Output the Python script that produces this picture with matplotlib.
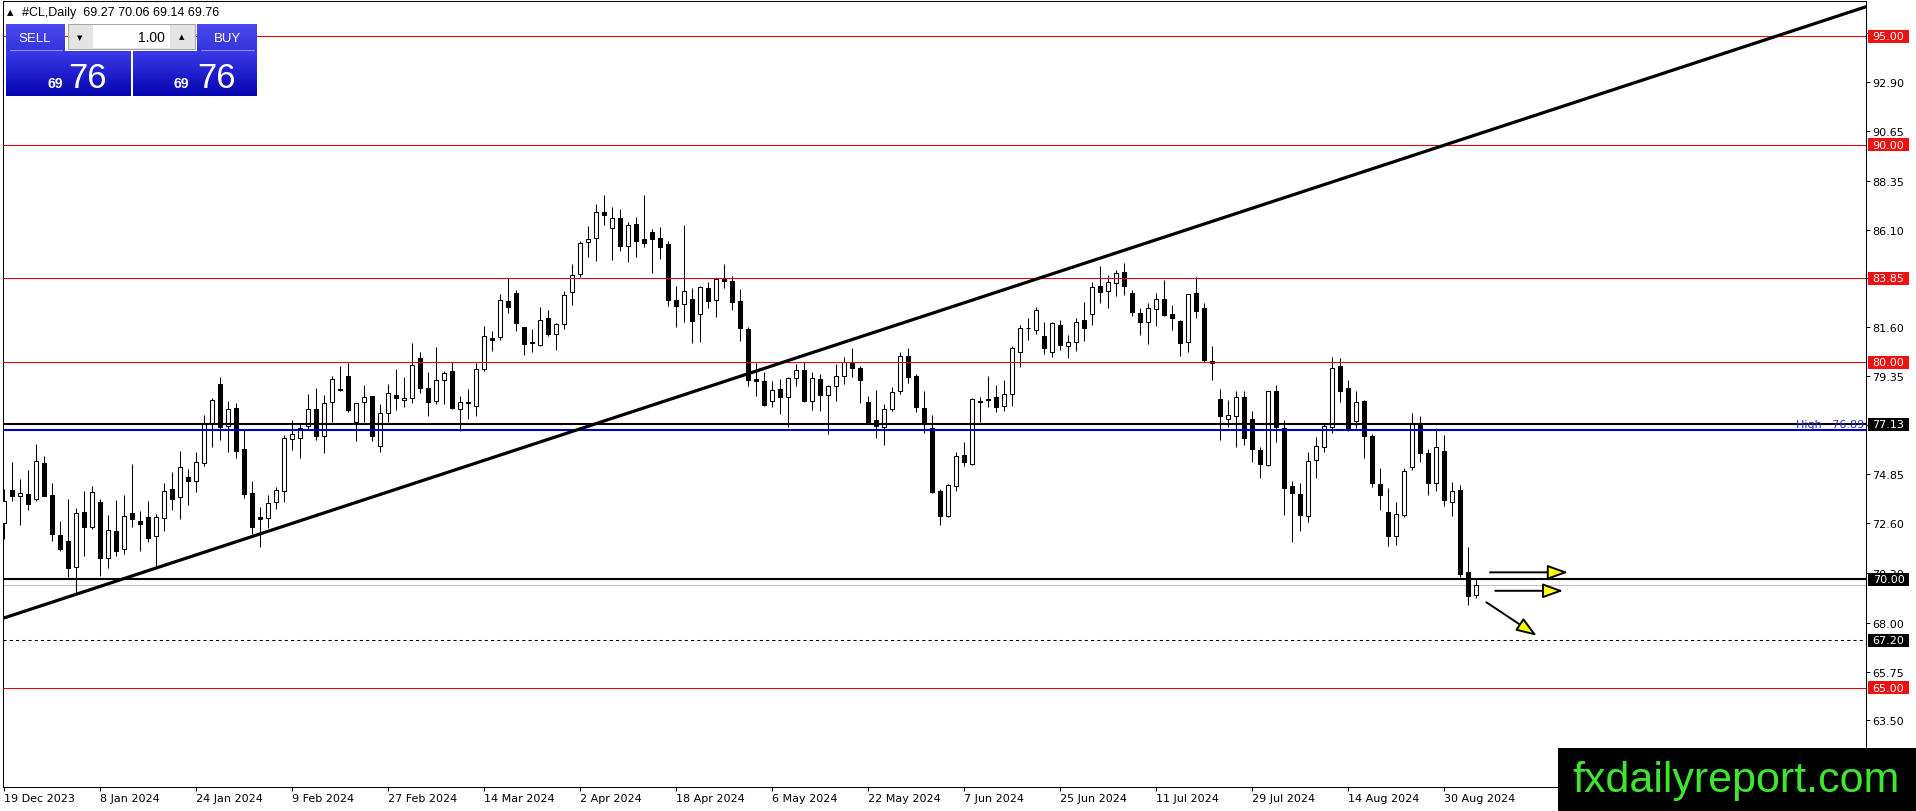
import numpy as np
import matplotlib
matplotlib.use('Agg')
import matplotlib.pyplot as plt
from matplotlib import font_manager
from matplotlib.patches import Rectangle, FancyArrowPatch
from matplotlib.colors import LinearSegmentedColormap
from matplotlib.transforms import blended_transform_factory

W, H = 1916, 812

# daily OHLC of #CL, 19 Dec 2023 .. 5 Sep 2024
opens = [
    72.59, 74.12, 73.85, 73.91, 73.68, 75.35, 73.86, 72.02, 71.75, 70.55,
    73.08, 72.42, 73.56, 70.96, 72.21, 71.39, 73.03, 72.68, 72.85, 72.01,
    72.80, 74.14, 73.77, 74.69, 74.54, 75.34, 77.20, 78.98, 77.04, 77.89,
    75.98, 73.97, 72.85, 72.82, 73.56, 74.08, 76.44, 76.49, 77.07, 77.82,
    76.61, 78.15, 78.76, 79.34, 77.22, 78.15, 78.42, 76.15, 77.64, 78.50,
    78.24, 78.33, 80.17, 78.79, 78.19, 79.16, 79.57, 77.84, 78.15, 77.96,
    79.67, 81.09, 81.14, 82.80, 83.18, 81.60, 80.91, 80.80, 82.01, 81.29,
    81.74, 83.21, 84.06, 85.51, 85.70, 86.90, 86.16, 86.63, 85.36, 86.36,
    85.67, 85.97, 85.70, 85.44, 82.86, 82.67, 82.90, 82.20, 83.40, 82.84,
    83.83, 83.72, 82.80, 81.52, 79.22, 79.13, 78.19, 78.74, 78.38, 79.25,
    79.62, 78.19, 79.21, 78.48, 78.88, 79.34, 80.02, 79.73, 78.16, 77.33,
    77.02, 77.84, 78.65, 80.29, 79.34, 77.89, 76.96, 74.05, 72.90, 74.31,
    75.72, 75.29, 78.19, 78.32, 78.38, 77.99, 78.51, 80.48, 81.58, 81.46,
    81.19, 80.48, 81.72, 80.76, 80.91, 81.94, 82.20, 83.49, 83.26, 83.63,
    84.13, 83.17, 82.24, 81.83, 82.44, 82.89, 82.21, 81.88, 80.91, 83.17,
    82.50, 80.05, 78.30, 77.38, 77.50, 78.38, 77.36, 75.94, 75.26, 78.65,
    76.95, 74.28, 73.93, 72.90, 75.49, 76.07, 77.00, 79.80, 78.79, 77.30,
    78.21, 76.61, 74.39, 73.12, 71.98, 72.97, 75.15, 77.18, 75.81, 74.43,
    75.89, 73.57, 74.12, 70.32, 69.27,
]
highs = [
    74.16, 75.38, 74.62, 75.03, 76.23, 75.69, 74.43, 72.68, 73.70, 73.27,
    74.05, 74.28, 73.70, 72.96, 73.65, 73.88, 75.31, 73.13, 73.60, 73.00,
    74.43, 74.92, 75.89, 75.08, 75.88, 77.56, 78.35, 79.30, 78.21, 78.12,
    76.92, 74.54, 73.34, 73.88, 74.26, 76.64, 77.35, 77.15, 78.53, 78.79,
    78.48, 79.37, 79.80, 79.96, 78.11, 78.93, 78.45, 78.05, 78.97, 79.67,
    79.30, 80.88, 80.46, 79.53, 80.68, 79.57, 80.00, 78.45, 78.76, 79.94,
    81.65, 81.45, 83.12, 83.87, 83.30, 81.61, 81.52, 82.54, 82.40, 81.80,
    83.26, 84.52, 85.56, 86.25, 87.28, 87.69, 87.13, 87.05, 86.46, 86.67,
    87.71, 86.13, 86.20, 85.59, 83.52, 86.31, 83.40, 83.52, 83.70, 83.89,
    84.52, 83.95, 83.37, 81.60, 79.94, 79.56, 79.14, 79.22, 79.31, 79.91,
    80.02, 79.56, 79.45, 78.94, 79.91, 80.22, 80.65, 79.80, 78.42, 78.73,
    78.07, 78.84, 80.45, 80.63, 79.45, 78.65, 77.56, 74.16, 74.39, 75.87,
    76.33, 78.33, 78.38, 79.37, 78.96, 79.17, 80.76, 81.71, 82.03, 82.52,
    81.83, 81.83, 81.95, 81.25, 82.04, 82.75, 83.70, 84.41, 84.01, 84.22,
    84.55, 83.33, 82.49, 82.72, 83.17, 83.78, 82.63, 81.94, 83.14, 83.90,
    82.70, 80.73, 78.76, 78.25, 78.68, 78.68, 77.76, 76.07, 78.68, 78.95,
    77.35, 74.54, 74.43, 75.87, 76.53, 77.15, 80.22, 80.17, 79.19, 78.65,
    78.25, 76.69, 75.11, 74.19, 73.54, 75.11, 77.66, 77.50, 76.00, 76.97,
    76.64, 74.46, 74.34, 71.47, 70.06,
]
lows = [
    71.85, 73.62, 72.51, 73.19, 73.59, 73.82, 71.75, 71.28, 70.09, 69.32,
    71.09, 72.31, 70.16, 70.50, 71.06, 71.16, 72.42, 71.28, 71.73, 70.55,
    72.24, 73.20, 72.77, 73.43, 74.00, 75.20, 76.10, 76.43, 75.88, 75.57,
    73.73, 72.08, 71.47, 72.37, 73.24, 73.57, 75.97, 75.57, 76.92, 76.41,
    75.80, 77.22, 78.65, 77.72, 76.35, 77.22, 76.38, 75.87, 77.22, 77.81,
    77.95, 78.10, 78.58, 77.53, 78.07, 78.05, 77.84, 76.81, 77.38, 77.53,
    79.60, 80.52, 81.03, 82.24, 81.45, 80.34, 80.45, 80.76, 81.22, 80.57,
    81.52, 82.63, 83.93, 84.85, 84.67, 86.33, 84.72, 85.13, 84.59, 84.85,
    85.31, 84.09, 84.75, 82.57, 81.60, 81.86, 80.86, 80.91, 82.47, 82.06,
    83.40, 82.41, 80.99, 78.88, 78.45, 78.00, 77.95, 77.59, 77.00, 78.91,
    78.18, 77.81, 77.73, 76.69, 78.22, 78.99, 79.30, 78.11, 77.19, 76.49,
    76.20, 77.76, 78.53, 79.02, 77.69, 76.73, 73.97, 72.51, 72.85, 74.08,
    75.23, 75.26, 77.23, 77.92, 77.72, 77.76, 77.99, 79.79, 81.02, 81.29,
    80.37, 80.25, 80.57, 80.20, 80.53, 80.99, 81.72, 82.72, 82.48, 83.06,
    83.10, 82.11, 81.25, 80.83, 81.68, 82.11, 81.49, 80.27, 80.48, 82.01,
    80.00, 79.19, 76.43, 77.00, 76.07, 76.20, 75.38, 74.65, 75.20, 76.31,
    72.97, 71.70, 72.24, 72.62, 74.65, 75.87, 76.72, 78.18, 76.84, 76.95,
    75.57, 74.23, 73.20, 71.52, 71.59, 72.85, 75.05, 75.41, 73.90, 74.08,
    73.39, 72.93, 70.09, 68.83, 69.14,
]
closes = [
    73.62, 73.85, 73.97, 73.48, 75.46, 73.85, 72.07, 71.39, 70.50, 73.03,
    72.42, 74.02, 70.96, 72.27, 71.31, 72.90, 72.79, 72.53, 71.91, 72.85,
    74.05, 73.68, 75.15, 74.54, 75.38, 77.20, 78.25, 76.99, 77.82, 75.89,
    73.94, 72.42, 72.79, 73.50, 74.09, 76.49, 76.67, 76.95, 77.82, 76.58,
    78.10, 79.22, 78.70, 77.81, 78.10, 78.38, 76.61, 77.64, 78.56, 78.33,
    78.35, 79.87, 78.79, 78.18, 79.16, 79.50, 77.87, 78.15, 78.11, 79.67,
    81.18, 81.00, 82.84, 82.52, 81.78, 80.82, 80.86, 81.95, 81.29, 81.74,
    83.10, 84.03, 85.47, 85.65, 86.90, 86.77, 86.62, 85.36, 86.31, 85.59,
    85.47, 85.67, 85.31, 82.87, 82.57, 83.26, 81.91, 83.44, 82.83, 83.83,
    83.72, 82.75, 81.55, 79.17, 79.11, 78.04, 78.71, 78.38, 79.27, 79.62,
    78.22, 79.25, 78.48, 78.88, 79.37, 80.02, 79.71, 79.16, 77.23, 77.04,
    77.84, 78.61, 80.29, 79.30, 77.92, 77.23, 74.00, 72.93, 74.34, 75.66,
    75.41, 78.30, 78.15, 78.27, 77.95, 78.53, 80.65, 81.57, 81.55, 82.40,
    80.63, 81.78, 80.80, 80.91, 81.83, 81.55, 83.44, 83.21, 83.67, 84.10,
    83.49, 82.29, 81.83, 82.49, 82.89, 82.18, 82.01, 80.86, 83.12, 82.37,
    80.11, 79.98, 77.50, 77.55, 78.38, 76.49, 75.98, 75.29, 78.65, 77.03,
    74.19, 73.96, 72.97, 75.46, 76.12, 77.04, 79.71, 78.68, 76.95, 78.15,
    76.61, 74.43, 73.89, 71.98, 73.00, 74.97, 77.18, 75.80, 74.42, 76.07,
    73.66, 74.08, 70.24, 69.24, 69.76,
]

date_labels = ['19 Dec 2023', '8 Jan 2024', '24 Jan 2024', '9 Feb 2024', '27 Feb 2024',
               '14 Mar 2024', '2 Apr 2024', '18 Apr 2024', '6 May 2024', '22 May 2024',
               '7 Jun 2024', '25 Jun 2024', '11 Jul 2024', '29 Jul 2024', '14 Aug 2024',
               '30 Aug 2024']
bars_per_label = 12

price_ticks = [95.15, 92.90, 90.65, 88.35, 86.10, 83.85, 81.60, 79.35, 77.10,
               74.85, 72.60, 70.30, 68.00, 65.75, 63.50]

red_levels = [95.00, 90.00, 83.85, 80.00, 65.00]
black_levels = [77.13, 70.00]
dashed_level = 67.20
high_level = 76.89
bid = 69.76

# trend line anchors (bar index, price)
trend_x = [0, 232]
trend_y = [68.22, 96.27]

# yellow arrows: start bar/price -> tip bar/price
arrow_x0 = [185.75, 186.4, 185.3]
arrow_y0 = [70.32, 69.47, 68.94]
arrow_x1 = [195.5, 194.9, 191.6]
arrow_y1 = [70.32, 69.47, 67.40]

fig = plt.figure(figsize=(W / 100, H / 100), dpi=100)
fig.patch.set_facecolor('white')

# chart area in pixels: x 3..1866, y 2..788
ax = fig.add_axes([3 / W, (H - 788) / H, (1866 - 3) / W, (788 - 2) / H])
ax.set_xlim(-0.125, 232.75)
ax.set_ylim(60.437, 96.625)

o = np.array(opens); hi = np.array(highs); lo = np.array(lows); c = np.array(closes)
idx = np.arange(len(o))
up = c >= o
ax.vlines(idx, lo, hi, color='black', linewidth=0.75, zorder=3)
bot = np.minimum(o, c)
hgt = np.maximum(np.abs(c - o), 0.01)
ax.bar(idx[up], hgt[up], bottom=bot[up], width=0.6, facecolor='white',
       edgecolor='black', linewidth=0.75, zorder=4)
ax.bar(idx[~up], hgt[~up], bottom=bot[~up], width=0.6, facecolor='black',
       edgecolor='black', linewidth=0.75, zorder=4)

# horizontal levels
for lv in red_levels:
    ax.axhline(lv, color='#ee0000', linewidth=0.75, zorder=5)
for lv in black_levels:
    ax.axhline(lv, color='black', linewidth=1.5, zorder=5)
ax.axhline(high_level, color='#0000cc', linewidth=1.5, zorder=5)
ax.axhline(dashed_level, color='black', linewidth=0.75, linestyle=(0, (3, 3)), zorder=5)
ax.axhline(bid, color='#c0c0c0', linewidth=0.75, zorder=2)
ax.text(232.5, high_level + 0.05, 'High   76.89', color='#2a2ab8', fontsize=8,
        ha='right', va='bottom', zorder=6)

ax.axline((trend_x[0], trend_y[0]), (trend_x[1], trend_y[1]), color='black',
          linewidth=2.3, zorder=5)

for x0, y0, x1, y1 in zip(arrow_x0, arrow_y0, arrow_x1, arrow_y1):
    arr = FancyArrowPatch((x0, y0), (x1, y1),
                          arrowstyle='-|>,head_length=1.25,head_width=0.45',
                          mutation_scale=10, facecolor='#ffff00', edgecolor='black',
                          linewidth=1.4, shrinkA=0, shrinkB=0, zorder=7)
    ax.add_patch(arr)

# axes look
for sp in ax.spines.values():
    sp.set_linewidth(0.75)
ax.set_xticks(np.arange(len(date_labels)) * bars_per_label)
ax.set_xticklabels(date_labels)
for lab in ax.get_xticklabels():
    lab.set_horizontalalignment('left')
ax.tick_params(axis='x', length=3, width=0.75, pad=1.5, labelsize=8)
ax.yaxis.tick_right()
ax.set_yticks(price_ticks)
ax.set_yticklabels([f'{v:.2f}' for v in price_ticks])
ax.tick_params(axis='y', length=3, width=0.75, pad=1.5, labelsize=8)

# coloured price boxes on the scale
trans = blended_transform_factory(ax.transAxes, ax.transData)
box_x0 = (1868 - 3) / 1863
box_w = 41 / 1863
half = 6.5 / 21.72
for lv in red_levels + black_levels + [dashed_level]:
    col = '#ee1111' if lv in red_levels else 'black'
    ax.add_patch(Rectangle((box_x0, lv - half), box_w, 2 * half, transform=trans,
                           facecolor=col, edgecolor='none', clip_on=False, zorder=8))
    ax.text(box_x0 + box_w / 2, lv, f'{lv:.2f}', transform=trans, color='white',
            fontsize=8, ha='center', va='center', clip_on=False, zorder=9)

# overlay in pixel coordinates for the trade panel and watermark
ui = fig.add_axes([0, 0, 1, 1], zorder=10)
ui.patch.set_alpha(0)
ui.axis('off')


def grad_rect(x0, y0, x1, y1, c_top, c_bot):
    cm = LinearSegmentedColormap.from_list('g', [c_top, c_bot])
    ui.imshow(np.linspace(0, 1, 64).reshape(-1, 1), cmap=cm, extent=(x0, x1, y1, y0),
              aspect='auto', interpolation='bilinear', zorder=1)


ui.text(7, 13, '\u25b2', fontsize=6, va='center', ha='left')
ui.text(22, 13, '#CL,Daily  69.27 70.06 69.14 69.76', fontsize=9, va='center',
        ha='left', family=['Liberation Sans', 'DejaVu Sans'])

# sell / buy buttons
grad_rect(6, 25, 65, 52, '#4a4af0', '#3434dc')
grad_rect(197, 25, 257, 52, '#4a4af0', '#3434dc')
ui.plot([10, 62], [51, 51], color='#9090ff', linewidth=0.75)
ui.plot([201, 254], [51, 51], color='#9090ff', linewidth=0.75)
grad_rect(6, 52, 131, 97, '#3a3aea', '#0404b0')
grad_rect(133, 52, 257, 97, '#3a3aea', '#0404b0')
ui.text(35, 39, 'SELL', color='white', fontsize=9.5, ha='center', va='center',
        family=['Liberation Sans', 'DejaVu Sans'])
ui.text(227, 39, 'BUY', color='white', fontsize=9.5, ha='center', va='center',
        family=['Liberation Sans', 'DejaVu Sans'])

# lot size control
ui.add_patch(Rectangle((68, 25), 127, 25, facecolor='#e4e4e4', edgecolor='#a8a8a8',
                       linewidth=0.75, zorder=2))
ui.add_patch(Rectangle((93, 26), 77, 23, facecolor='white', edgecolor='none', zorder=3))
ui.text(80, 38, '\u25bc', fontsize=5, ha='center', va='center', zorder=4)
ui.text(182, 37, '\u25b2', fontsize=5, ha='center', va='center', zorder=4)
ui.text(165, 38, '1.00', fontsize=10, ha='right', va='center', zorder=4,
        family=['Liberation Sans', 'DejaVu Sans'])

for cx in (55, 181):
    ui.text(cx, 88, '69', color='white', fontsize=10, fontweight='bold', ha='center',
            va='baseline', family=['Liberation Sans', 'DejaVu Sans'], zorder=4)
for cx in (88, 217):
    ui.text(cx, 88, '76', color='white', fontsize=25, ha='center', va='baseline',
            family=['Liberation Sans', 'DejaVu Sans'], zorder=4)

# watermark
try:
    font_manager.findfont('Liberation Sans Narrow', fallback_to_default=False)
    wm_font, wm_size = 'Liberation Sans Narrow', 37
except ValueError:
    wm_font, wm_size = 'Liberation Sans', 31
ui.add_patch(Rectangle((1558, 749), 358, 63, facecolor='black', edgecolor='none', zorder=5))
ui.text(1736, 792, 'fxdailyreport.com', color='#3ee62e', fontsize=wm_size,
        family=[wm_font, 'DejaVu Sans'], ha='center', va='baseline', zorder=6)

ui.set_xlim(0, W)
ui.set_ylim(H, 0)

fig.savefig('out.png', dpi=100)
